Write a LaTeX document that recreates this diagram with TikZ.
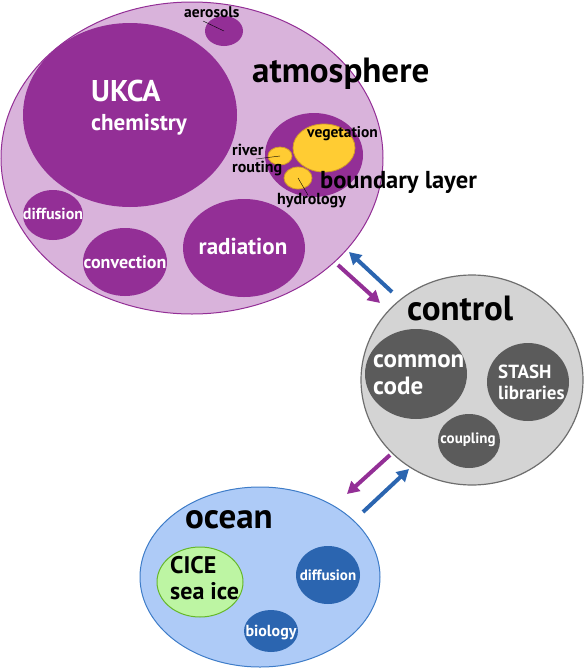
\documentclass[tikz,border=0pt]{standalone}
\usepackage{fontspec}
\setmainfont{PT Sans}
\usetikzlibrary{shapes.geometric,arrows.meta}

\definecolor{atmfill}{HTML}{D9B3DB}
\definecolor{atmdark}{HTML}{932F96}
\definecolor{bllight}{HTML}{FFCC33}
\definecolor{blline}{HTML}{D29A2A}
\definecolor{ctlfill}{HTML}{D4D4D4}
\definecolor{ctldark}{HTML}{5B5B5B}
\definecolor{ctlline}{HTML}{6E6E6E}
\definecolor{ocnfill}{HTML}{AECBF7}
\definecolor{ocndark}{HTML}{2B65B0}
\definecolor{ocnline}{HTML}{3E7CC8}
\definecolor{icefill}{HTML}{BDF5A3}
\definecolor{iceline}{HTML}{66B82A}

\tikzset{
  blob/.style 2 args={ellipse, inner sep=0pt, minimum width=2*#1pt, minimum height=2*#2pt},
  big/.style={font=\bfseries\fontsize{35}{35}\selectfont, inner sep=0pt, anchor=base west},
  lbl/.style={font=\bfseries\fontsize{#1}{#1}\selectfont, align=center, inner sep=0pt},
  wlbl/.style={lbl=#1, text=white},
  flow/.style={line width=4pt, -{Triangle[length=12pt,width=13pt]}}
}

\begin{document}
\begin{tikzpicture}[x=1pt, y=-1pt]
  \useasboundingbox (0,0) rectangle (584,670);

  % Draw atmosphere and its parts
  \node[blob={191}{156}, fill=atmfill, draw=atmdark, line width=1pt] (atm) at (192,158) {};
  \node[blob={107}{92}, fill=atmdark] (ukca) at (130,115) {};
  \node[blob={19}{15}, fill=atmdark] (aer) at (224,31) {};
  \node[blob={49}{42}, fill=atmdark] (bl) at (314,155) {};
  \node[blob={31}{24}, fill=bllight, draw=blline, line width=0.8pt] (veg) at (324,148) {};
  \node[blob={12}{9}, fill=bllight, draw=blline, line width=0.8pt] (riv) at (280,156) {};
  \node[blob={14}{11}, fill=bllight, draw=blline, line width=0.8pt] (hyd) at (298,178) {};
  \node[blob={30}{25}, fill=atmdark] (adiff) at (53,215) {};
  \node[blob={42}{34}, fill=atmdark] (conv) at (125,262) {};
  \node[blob={61}{49}, fill=atmdark] (rad) at (244,248) {};

  \node[big] at (252,82) {atmosphere};
  \node[wlbl=30, anchor=base west] at (91,101) {UKCA};
  \node[wlbl=23, anchor=base west] at (91,130) {chemistry};
  \node[lbl=15.5, anchor=base west] (aerl) at (184,17) {aerosols};
  \node[lbl=15.5, anchor=base west] (vegl) at (307,137) {vegetation};
  \node[inner sep=0pt, align=left, anchor=base west,
        font=\bfseries\fontsize{16}{17}\selectfont] (rivl) at (232,172) {river\\routing};
  \node[lbl=16, anchor=base west] (hydl) at (277,204) {hydrology};
  \node[lbl=24.5, anchor=base west] at (320,188) {boundary layer};
  \node[wlbl=16] at (53,214) {diffusion};
  \node[wlbl=18] at (125,262) {convection};
  \node[wlbl=23] at (243,246) {radiation};
  \draw[thin] (aer.center) -- ++(-21,-10);
  \draw[thin] (riv.center) -- ++(-24,3);
  \draw[thin] (hyd.center) -- ++(10,17);

  % Draw control
  \node[blob={111}{105}, fill=ctlfill, draw=ctlline, line width=1.2pt] (ctl) at (472,380) {};
  \node[blob={51}{45}, fill=ctldark] (com) at (416,374) {};
  \node[blob={41}{39}, fill=ctldark] (stash) at (528,382) {};
  \node[blob={31}{27}, fill=ctldark] (cpl) at (469,441) {};
  \node[big] at (407,320) {control};
  \node[text=white, inner sep=0pt, anchor=base west, align=left,
        font=\bfseries\fontsize{25}{27}\selectfont] at (373,394) {common\\code};
  \node[text=white, inner sep=0pt, anchor=base west, align=left,
        font=\bfseries\fontsize{19}{21}\selectfont] at (498,399) {STASH\\libraries};
  \node[wlbl=15] at (468,440) {coupling};

  % Draw ocean
  \node[blob={120}{90}, fill=ocnfill, draw=ocnline, line width=1pt] (ocn) at (260,577) {};
  \node[blob={43}{35}, fill=icefill, draw=iceline, line width=1pt] (cice) at (200,582) {};
  \node[blob={32}{29}, fill=ocndark] (odiff) at (328,575) {};
  \node[blob={27}{21}, fill=ocndark] (bio) at (271,631) {};
  \node[big] at (185,528) {ocean};
  \node[inner sep=0pt, anchor=base west, align=left,
        font=\bfseries\fontsize{24}{26}\selectfont] at (170,599) {CICE\\sea ice};
  \node[wlbl=15] at (328,575) {diffusion};
  \node[wlbl=16] at (271,632) {biology};

  % Draw exchange arrows
  \coordinate (a1) at (338,265);
  \coordinate (c1) at (380,303);
  \coordinate (c2) at (392,292);
  \coordinate (a2) at (349,252);
  \coordinate (c3) at (390,455);
  \coordinate (o1) at (347,494);
  \coordinate (o2) at (363,512);
  \coordinate (c4) at (409,469);
  \draw[flow, atmdark] (a1) -- (c1);
  \draw[flow, ocndark] (c2) -- (a2);
  \draw[flow, atmdark] (c3) -- (o1);
  \draw[flow, ocndark] (o2) -- (c4);
\end{tikzpicture}
\end{document}
